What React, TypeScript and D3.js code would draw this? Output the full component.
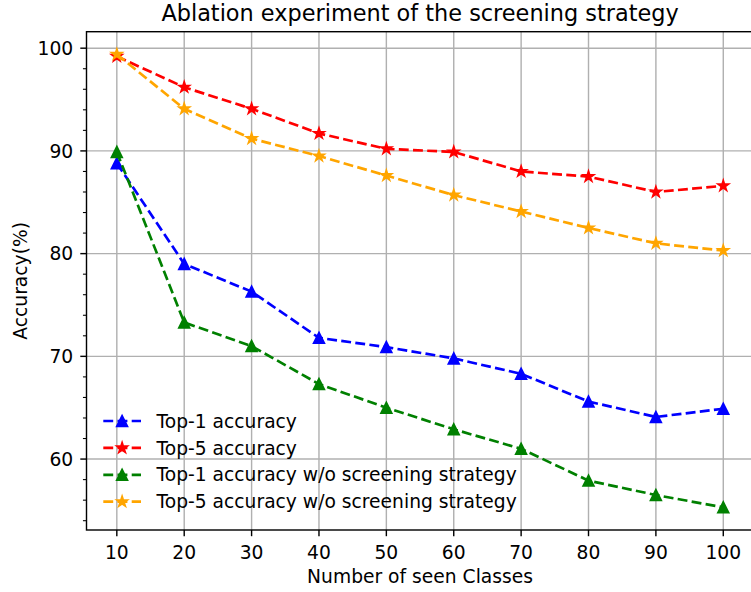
import React from "react";
import * as d3 from "d3";

const xValues = [10, 20, 30, 40, 50, 60, 70, 80, 90, 100];
const top1 = [88.8, 79.0, 76.3, 71.8, 70.9, 69.8, 68.3, 65.6, 64.1, 64.9];
const top5 = [99.2, 96.2, 94.1, 91.7, 90.2, 89.9, 88.0, 87.5, 86.0, 86.6];
const top1wo = [89.9, 73.3, 71.0, 67.3, 65.0, 62.9, 61.0, 57.9, 56.5, 55.3];
const top5wo = [99.4, 94.1, 91.2, 89.5, 87.6, 85.7, 84.1, 82.5, 81.0, 80.3];
const xTicks = [10, 20, 30, 40, 50, 60, 70, 80, 90, 100];
const yTicks = [60, 70, 80, 90, 100];
const yMinorTicks = [54, 56, 58, 62, 64, 66, 68, 72, 74, 76, 78, 82, 84, 86, 88, 92, 94, 96, 98];

const seriesNames = [
  "Top-1 accuracy",
  "Top-5 accuracy",
  "Top-1 accuracy w/o screening strategy",
  "Top-5 accuracy w/o screening strategy",
];
const seriesColors = ["blue", "red", "green", "orange"];
const seriesMarkers = ["triangle", "star", "triangle", "star"];
const seriesData = [top1, top5, top1wo, top5wo];

const W = 751;
const H = 592;
const L = 86.5;
const R = 753.6;
const T = 31.7;
const B = 530;
const FONT = "'DejaVu Sans', sans-serif";
const FS = 18.7;
const MS = 10.67; // marker size px

function trianglePath(cx: number, cy: number) {
  const h = MS / 2;
  return `M${cx},${cy - h}L${cx - h},${cy + h}L${cx + h},${cy + h}Z`;
}
function starPath(cx: number, cy: number) {
  const ro = MS / 2;
  const ri = ro * 0.381966;
  const pts: string[] = [];
  for (let i = 0; i < 10; i++) {
    const r = i % 2 === 0 ? ro : ri;
    const a = -Math.PI / 2 + (i * Math.PI) / 5;
    pts.push(`${cx + r * Math.cos(a)},${cy + r * Math.sin(a)}`);
  }
  return "M" + pts.join("L") + "Z";
}
function marker(kind: string, cx: number, cy: number) {
  return kind === "triangle" ? trianglePath(cx, cy) : starPath(cx, cy);
}

export default function App() {
  const xmin = d3.min(xValues)!;
  const xmax = d3.max(xValues)!;
  const xpad = (xmax - xmin) * 0.05;
  const all = seriesData.flat();
  const ymin = d3.min(all)!;
  const ymax = d3.max(all)!;
  const ypad = (ymax - ymin) * 0.05;
  const x = d3.scaleLinear().domain([xmin - xpad, xmax + xpad]).range([L, R]);
  const y = d3.scaleLinear().domain([ymin - ypad, ymax + ypad]).range([B, T]);
  const line = d3
    .line<number>()
    .x((_, i) => x(xValues[i]))
    .y((d) => y(d));

  const dash = "9.9,4.3";
  const lw = 2.67;

  return (
    <svg
      width={W}
      height={H}
      style={{ position: "absolute", left: 0, top: 0, background: "white" }}
      fontFamily={FONT}
    >
      <rect x={0} y={0} width={W} height={H} fill="white" />
      {/* grid */}
      {xTicks.map((t) => (
        <line key={"gx" + t} x1={x(t)} x2={x(t)} y1={T} y2={B} stroke="#b0b0b0" strokeWidth={1.42} />
      ))}
      {yTicks.map((t) => (
        <line key={"gy" + t} x1={L} x2={R} y1={y(t)} y2={y(t)} stroke="#b0b0b0" strokeWidth={1.42} />
      ))}
      {/* series */}
      {seriesData.map((data, si) => (
        <g key={"s" + si}>
          <path
            d={line(data) || ""}
            fill="none"
            stroke={seriesColors[si]}
            strokeWidth={lw}
            strokeDasharray={dash}
          />
          {data.map((v, i) => (
            <path
              key={i}
              d={marker(seriesMarkers[si], x(xValues[i]), y(v))}
              fill={seriesColors[si]}
              stroke={seriesColors[si]}
              strokeWidth={1.78}
              strokeLinejoin="miter"
            />
          ))}
        </g>
      ))}
      {/* spines */}
      <rect x={L} y={T} width={R - L} height={B - T} fill="none" stroke="black" strokeWidth={1.42} />
      {/* x ticks */}
      {xTicks.map((t) => (
        <g key={"xt" + t}>
          <line x1={x(t)} x2={x(t)} y1={B} y2={B + 6.2} stroke="black" strokeWidth={1.42} />
          <text x={x(t)} y={558.5} fontSize={FS} textAnchor="middle" fill="black">
            {t}
          </text>
        </g>
      ))}
      {/* y ticks */}
      {yTicks.map((t) => (
        <g key={"yt" + t}>
          <line x1={L - 6.2} x2={L} y1={y(t)} y2={y(t)} stroke="black" strokeWidth={1.42} />
          <text x={73.2} y={y(t) + 6.8} fontSize={FS} textAnchor="end" fill="black">
            {t}
          </text>
        </g>
      ))}
      {yMinorTicks.map((t) => (
        <line key={"ym" + t} x1={L - 3.56} x2={L} y1={y(t)} y2={y(t)} stroke="black" strokeWidth={1.07} />
      ))}
      {/* labels */}
      <text x={(L + R) / 2} y={21} fontSize={22.4} textAnchor="middle" fill="black">
        Ablation experiment of the screening strategy
      </text>
      <text x={(L + R) / 2} y={583} fontSize={FS} textAnchor="middle" fill="black">
        Number of seen Classes
      </text>
      <text
        transform={`translate(27,${(T + B) / 2}) rotate(-90)`}
        fontSize={FS}
        textAnchor="middle"
        fill="black"
      >
        Accuracy(%)
      </text>
      {/* legend */}
      {seriesNames.map((name, si) => {
        const cy = 421 + si * 26.9;
        return (
          <g key={"lg" + si}>
            <line
              x1={103.3}
              x2={141}
              y1={cy}
              y2={cy}
              stroke={seriesColors[si]}
              strokeWidth={lw}
              strokeDasharray={dash}
            />
            <path
              d={marker(seriesMarkers[si], 122.1, cy)}
              fill={seriesColors[si]}
              stroke={seriesColors[si]}
              strokeWidth={1.78}
            />
            <text x={156.5} y={cy + 6.6} fontSize={FS} fill="black">
              {name}
            </text>
          </g>
        );
      })}
    </svg>
  );
}
